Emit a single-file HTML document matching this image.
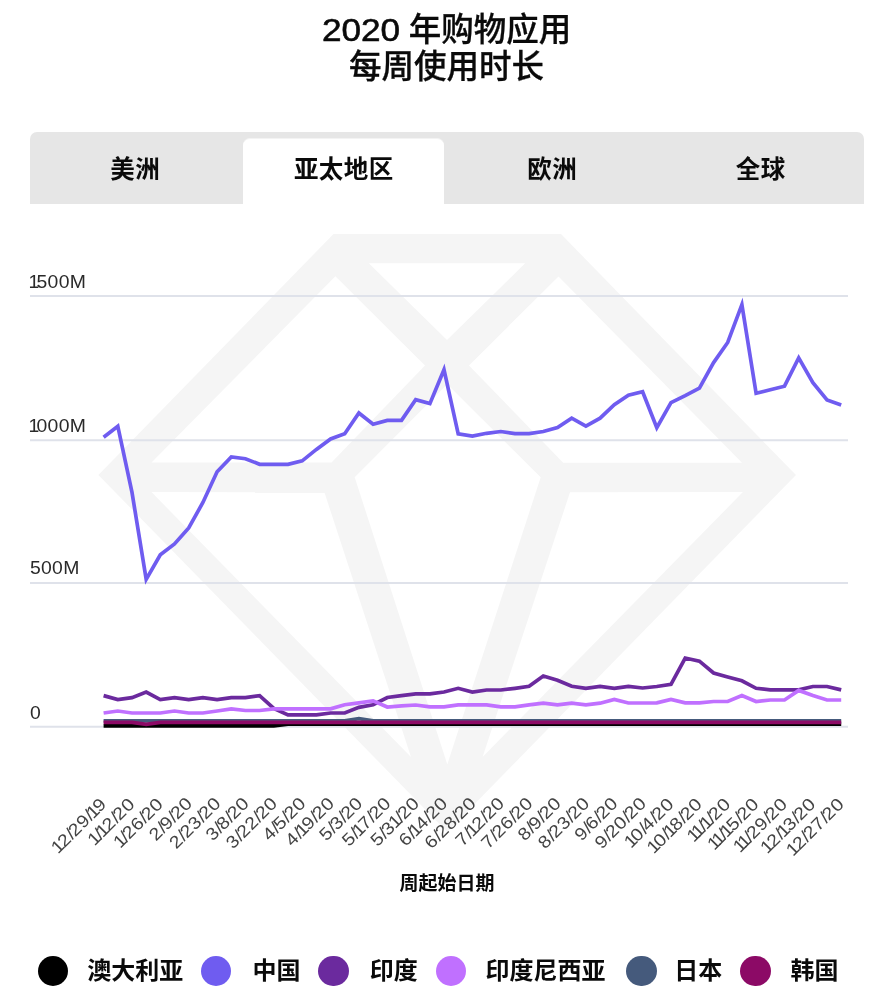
<!DOCTYPE html>
<html lang="zh-CN">
<head>
<meta charset="utf-8">
<title>2020 年购物应用每周使用时长</title>
<style>
html,body{margin:0;padding:0;background:#fff;}
body{width:890px;height:996px;position:relative;overflow:hidden;font-family:"Liberation Sans","Noto Sans CJK SC",sans-serif;color:#111;}
.title{position:absolute;left:0;top:12px;width:893px;text-align:center;font-size:32.5px;line-height:37px;font-weight:500;color:#0a0a0a;margin:0;-webkit-text-stroke:0.3px #0a0a0a;}
.title .num{display:inline-block;font-size:30.6px;font-weight:400;transform:scaleX(1.15);margin:0 5px 0 5px;-webkit-text-stroke:0.55px #0a0a0a;}
.tabs{position:absolute;left:30px;top:132px;width:834px;height:72px;background:#e6e6e6;border-radius:7px 7px 0 0;}
.tab{position:absolute;top:0;height:72px;width:208.5px;text-align:center;font-size:24.5px;font-weight:700;line-height:76.5px;letter-spacing:0.4px;text-indent:2px;color:#0a0a0a;}
.tab.active::before{content:"";position:absolute;left:4px;right:3px;top:6px;bottom:0;background:#fff;border-radius:7px 7px 0 0;border-top:1px solid #f3f3f3;z-index:0;}
.tab span{position:relative;z-index:1;}
.chart{position:absolute;left:0;top:0;}
.chart text{font-family:"Liberation Sans","Noto Sans CJK SC",sans-serif;fill:#1a1a1a;}
.ylab text{font-size:17.6px;fill:#2a2a2a;}
.ticks text{font-size:17.5px;fill:#444;}
.xtitle{position:absolute;left:0;top:870px;width:894px;text-align:center;font-size:19px;line-height:28px;font-weight:700;color:#0a0a0a;}
.dot{position:absolute;top:955.9px;width:30.6px;height:30.6px;border-radius:50%;}
.lt{position:absolute;top:953px;font-size:24px;line-height:36px;font-weight:700;color:#0a0a0a;white-space:nowrap;}
</style>
</head>
<body>
<svg class="chart" width="890" height="996" viewBox="0 0 890 996">
<g><polygon points="333.5,234 561,234 796,475 447.3,832 98.4,475" fill="#f5f5f5"/><polygon points="335.4,276.2 425,365.4 331.5,462.5 151.5,462.5" fill="#fff"/><polygon points="558.5,276.4 469,365.4 563.2,462.7 742,462.7" fill="#fff"/><polygon points="368.8,263.3 525.2,263.3 447,340" fill="#fff"/><polygon points="447.3,384.2 540.7,477.2 447.3,764.4 354.7,477.2" fill="#fff"/><polygon points="151.5,492.1 324.4,492.3 411,757" fill="#fff"/><polygon points="742.9,492.1 570,492.3 482.6,757" fill="#fff"/></g>
<g stroke="#dfe2ea" stroke-width="2"><line x1="30" x2="848" y1="296" y2="296"/><line x1="30" x2="848" y1="440.2" y2="440.2"/><line x1="30" x2="848" y1="583" y2="583"/><line x1="30" x2="848" y1="726.8" y2="726.8"/></g>
<g class="ylab"><text transform="translate(29.6,288.3) scale(1.1,1)" dx="-1.1 -2.5 0.31 0.31 0.31">1500M</text><text transform="translate(29.6,432.2) scale(1.1,1)" dx="-1.1 -2.5 0.31 0.31 0.31">1000M</text><text transform="translate(29.9,573.9) scale(1.1,1)" dx="0 0.31 0.31 0.31">500M</text><text transform="translate(29.9,719.2) scale(1.1,1)" dx="0">0</text></g>
<polyline points="103.6,725.8 117.8,725.8 132.0,725.8 146.2,725.8 160.3,725.8 174.5,725.8 188.7,725.8 202.9,725.8 217.1,725.8 231.3,725.8 245.4,725.8 259.6,725.8 273.8,725.8 288.0,724.1 302.2,724.1 316.4,724.1 330.6,724.1 344.7,724.1 358.9,724.1 373.1,724.1 387.3,724.1 401.5,724.1 415.7,724.1 429.9,724.1 444.0,724.1 458.2,724.1 472.4,724.1 486.6,724.1 500.8,724.1 515.0,724.1 529.1,724.1 543.3,724.1 557.5,724.1 571.7,724.1 585.9,724.1 600.1,724.1 614.3,724.1 628.4,724.1 642.6,724.1 656.8,724.1 671.0,724.1 685.2,724.1 699.4,724.1 713.6,724.1 727.7,724.1 741.9,724.1 756.1,724.1 770.3,724.1 784.5,724.1 798.7,724.1 812.9,724.1 827.0,724.1 841.2,724.1" fill="none" stroke="#000000" stroke-width="3.7" stroke-linejoin="miter" stroke-miterlimit="10"/>
<polyline points="103.6,437.3 117.8,426.2 132.0,492.4 146.2,579.4 160.3,554.8 174.5,544 188.7,527.9 202.9,502.5 217.1,471.7 231.3,456.9 245.4,458.7 259.6,464.3 273.8,464.3 288.0,464.3 302.2,460.9 316.4,449.4 330.6,438.9 344.7,433.7 358.9,413 373.1,424.3 387.3,420.4 401.5,420.4 415.7,399.6 429.9,403.6 444.0,369.7 458.2,433.9 472.4,436 486.6,433.3 500.8,431.5 515.0,433.7 529.1,433.7 543.3,431.5 557.5,427.6 571.7,418.2 585.9,426.1 600.1,418.2 614.3,404.7 628.4,395.1 642.6,391.7 656.8,427.7 671.0,402.7 685.2,395.6 699.4,388.1 713.6,362.6 727.7,342.5 741.9,304.7 756.1,393.3 770.3,389.7 784.5,386.2 798.7,357.9 812.9,382.6 827.0,399.9 841.2,405" fill="none" stroke="#6f5cf0" stroke-width="3.7" stroke-linejoin="miter" stroke-miterlimit="10"/>
<polyline points="103.6,695.6 117.8,699.6 132.0,697.6 146.2,692 160.3,699.6 174.5,697.6 188.7,699.6 202.9,697.6 217.1,699.6 231.3,697.6 245.4,697.6 259.6,695.6 273.8,708.4 288.0,714.9 302.2,714.9 316.4,714.9 330.6,713 344.7,713 358.9,707.4 373.1,704.7 387.3,697.5 401.5,695.7 415.7,693.9 429.9,693.9 444.0,692 458.2,688.3 472.4,692 486.6,690 500.8,690 515.0,688.3 529.1,686.3 543.3,676 557.5,680.2 571.7,686.3 585.9,688.3 600.1,686.3 614.3,688.3 628.4,686.3 642.6,688 656.8,686.5 671.0,684.4 685.2,658 699.4,661.2 713.6,673 727.7,677 741.9,680.8 756.1,688.3 770.3,689.9 784.5,689.9 798.7,689.9 812.9,686.5 827.0,686.5 841.2,689.9" fill="none" stroke="#6b2a9e" stroke-width="3.7" stroke-linejoin="miter" stroke-miterlimit="10"/>
<polyline points="103.6,713 117.8,711 132.0,713 146.2,713 160.3,713 174.5,711 188.7,713 202.9,713 217.1,711 231.3,708.8 245.4,710.5 259.6,710.5 273.8,708.8 288.0,708.8 302.2,708.8 316.4,708.8 330.6,708.8 344.7,704.7 358.9,702.9 373.1,700.9 387.3,707 401.5,705.8 415.7,705 429.9,706.9 444.0,706.9 458.2,704.9 472.4,704.9 486.6,704.9 500.8,706.9 515.0,706.9 529.1,704.9 543.3,703.2 557.5,704.9 571.7,703.2 585.9,704.9 600.1,703.2 614.3,699.4 628.4,703 642.6,703 656.8,702.8 671.0,699.4 685.2,702.8 699.4,702.8 713.6,701.5 727.7,701.5 741.9,695.6 756.1,701.5 770.3,700 784.5,700 798.7,690.4 812.9,695.6 827.0,700 841.2,700" fill="none" stroke="#c070ff" stroke-width="3.7" stroke-linejoin="miter" stroke-miterlimit="10"/>
<polyline points="103.6,720.9 117.8,720.9 132.0,720.9 146.2,720.9 160.3,720.9 174.5,720.9 188.7,720.9 202.9,720.9 217.1,720.9 231.3,720.9 245.4,720.9 259.6,720.9 273.8,720.9 288.0,720.9 302.2,720.9 316.4,720.9 330.6,720.9 344.7,720.9 358.9,718.7 373.1,720.9 387.3,720.9 401.5,720.9 415.7,720.9 429.9,720.9 444.0,720.9 458.2,720.9 472.4,720.9 486.6,720.9 500.8,720.9 515.0,720.9 529.1,720.9 543.3,720.9 557.5,720.9 571.7,720.9 585.9,720.9 600.1,720.9 614.3,720.9 628.4,720.9 642.6,720.9 656.8,720.9 671.0,720.9 685.2,720.9 699.4,720.9 713.6,720.9 727.7,720.9 741.9,720.9 756.1,720.9 770.3,720.9 784.5,720.9 798.7,720.9 812.9,720.9 827.0,720.9 841.2,720.9" fill="none" stroke="#455a7c" stroke-width="3.7" stroke-linejoin="miter" stroke-miterlimit="10"/>
<polyline points="103.6,722.4 117.8,722.4 132.0,722.4 146.2,724.4 160.3,722.4 174.5,722.4 188.7,722.4 202.9,722.4 217.1,722.4 231.3,722.4 245.4,722.4 259.6,722.4 273.8,722.4 288.0,722.4 302.2,722.4 316.4,722.4 330.6,722.4 344.7,722.4 358.9,722.4 373.1,722.4 387.3,722.4 401.5,722.4 415.7,722.4 429.9,722.4 444.0,722.4 458.2,722.4 472.4,722.4 486.6,722.4 500.8,722.4 515.0,722.4 529.1,722.4 543.3,722.4 557.5,722.4 571.7,722.4 585.9,722.4 600.1,722.4 614.3,722.4 628.4,722.4 642.6,722.4 656.8,722.4 671.0,722.4 685.2,722.4 699.4,722.4 713.6,722.4 727.7,722.4 741.9,722.4 756.1,722.4 770.3,722.4 784.5,722.4 798.7,722.4 812.9,722.4 827.0,722.4 841.2,722.4" fill="none" stroke="#8c0a66" stroke-width="3.7" stroke-linejoin="miter" stroke-miterlimit="10"/>
<g class="ticks"><text transform="translate(108.1,804.5) rotate(-45) scale(1.12,1)" text-anchor="end" dx="-1.1 -1.67 0.45 -1.47 0.45 0.45 -2.57 -1.67">12/29/19</text><text transform="translate(136.5,804.5) rotate(-45) scale(1.12,1)" text-anchor="end" dx="-1.1 -1.67 -2.57 -1.67 0.45 -1.47 0.45">1/12/20</text><text transform="translate(164.8,804.5) rotate(-45) scale(1.12,1)" text-anchor="end" dx="-1.1 -1.67 -1.47 0.45 0.45 -1.47 0.45">1/26/20</text><text transform="translate(193.2,804.5) rotate(-45) scale(1.12,1)" text-anchor="end" dx="0 0.45 -1.47 0.45 -1.47 0.45">2/9/20</text><text transform="translate(221.6,804.5) rotate(-45) scale(1.12,1)" text-anchor="end" dx="0 0.45 -1.47 0.45 0.45 -1.47 0.45">2/23/20</text><text transform="translate(249.9,804.5) rotate(-45) scale(1.12,1)" text-anchor="end" dx="0 0.45 -1.47 0.45 -1.47 0.45">3/8/20</text><text transform="translate(278.3,804.5) rotate(-45) scale(1.12,1)" text-anchor="end" dx="0 0.45 -1.47 0.45 0.45 -1.47 0.45">3/22/20</text><text transform="translate(306.7,804.5) rotate(-45) scale(1.12,1)" text-anchor="end" dx="0 0.45 -1.47 0.45 -1.47 0.45">4/5/20</text><text transform="translate(335.1,804.5) rotate(-45) scale(1.12,1)" text-anchor="end" dx="0 0.45 -2.57 -1.67 0.45 -1.47 0.45">4/19/20</text><text transform="translate(363.4,804.5) rotate(-45) scale(1.12,1)" text-anchor="end" dx="0 0.45 -1.47 0.45 -1.47 0.45">5/3/20</text><text transform="translate(391.8,804.5) rotate(-45) scale(1.12,1)" text-anchor="end" dx="0 0.45 -2.57 -1.67 0.45 -1.47 0.45">5/17/20</text><text transform="translate(420.2,804.5) rotate(-45) scale(1.12,1)" text-anchor="end" dx="0 0.45 -1.47 -0.65 -1.67 -1.47 0.45">5/31/20</text><text transform="translate(448.5,804.5) rotate(-45) scale(1.12,1)" text-anchor="end" dx="0 0.45 -2.57 -1.67 0.45 -1.47 0.45">6/14/20</text><text transform="translate(476.9,804.5) rotate(-45) scale(1.12,1)" text-anchor="end" dx="0 0.45 -1.47 0.45 0.45 -1.47 0.45">6/28/20</text><text transform="translate(505.3,804.5) rotate(-45) scale(1.12,1)" text-anchor="end" dx="0 0.45 -2.57 -1.67 0.45 -1.47 0.45">7/12/20</text><text transform="translate(533.6,804.5) rotate(-45) scale(1.12,1)" text-anchor="end" dx="0 0.45 -1.47 0.45 0.45 -1.47 0.45">7/26/20</text><text transform="translate(562.0,804.5) rotate(-45) scale(1.12,1)" text-anchor="end" dx="0 0.45 -1.47 0.45 -1.47 0.45">8/9/20</text><text transform="translate(590.4,804.5) rotate(-45) scale(1.12,1)" text-anchor="end" dx="0 0.45 -1.47 0.45 0.45 -1.47 0.45">8/23/20</text><text transform="translate(618.8,804.5) rotate(-45) scale(1.12,1)" text-anchor="end" dx="0 0.45 -1.47 0.45 -1.47 0.45">9/6/20</text><text transform="translate(647.1,804.5) rotate(-45) scale(1.12,1)" text-anchor="end" dx="0 0.45 -1.47 0.45 0.45 -1.47 0.45">9/20/20</text><text transform="translate(675.5,804.5) rotate(-45) scale(1.12,1)" text-anchor="end" dx="-1.1 -1.67 0.45 -1.47 0.45 -1.47 0.45">10/4/20</text><text transform="translate(703.9,804.5) rotate(-45) scale(1.12,1)" text-anchor="end" dx="-1.1 -1.67 0.45 -2.57 -1.67 0.45 -1.47 0.45">10/18/20</text><text transform="translate(732.2,804.5) rotate(-45) scale(1.12,1)" text-anchor="end" dx="-1.1 -2.77 -1.67 -2.57 -1.67 -1.47 0.45">11/1/20</text><text transform="translate(760.6,804.5) rotate(-45) scale(1.12,1)" text-anchor="end" dx="-1.1 -2.77 -1.67 -2.57 -1.67 0.45 -1.47 0.45">11/15/20</text><text transform="translate(789.0,804.5) rotate(-45) scale(1.12,1)" text-anchor="end" dx="-1.1 -2.77 -1.67 -1.47 0.45 0.45 -1.47 0.45">11/29/20</text><text transform="translate(817.4,804.5) rotate(-45) scale(1.12,1)" text-anchor="end" dx="-1.1 -1.67 0.45 -2.57 -1.67 0.45 -1.47 0.45">12/13/20</text><text transform="translate(845.7,804.5) rotate(-45) scale(1.12,1)" text-anchor="end" dx="-1.1 -1.67 0.45 -1.47 0.45 0.45 -1.47 0.45">12/27/20</text></g>
</svg>
<h1 class="title"><span class="num">2020</span> 年购物应用<br>每周使用时长</h1>
<div class="tabs">
<div class="tab" style="left:0"><span>美洲</span></div>
<div class="tab active" style="left:208.5px"><span>亚太地区</span></div>
<div class="tab" style="left:417px"><span>欧洲</span></div>
<div class="tab" style="left:625.5px"><span>全球</span></div>
</div>
<div class="xtitle">周起始日期</div>
<div class="legend"><span class="dot" style="left:37.5px;background:#000000"></span><span class="lt" style="left:87.3px">澳大利亚</span><span class="dot" style="left:200.7px;background:#6f5cf0"></span><span class="lt" style="left:252.5px">中国</span><span class="dot" style="left:318.4px;background:#6b2a9e"></span><span class="lt" style="left:369.7px">印度</span><span class="dot" style="left:435.9px;background:#c070ff"></span><span class="lt" style="left:485.5px">印度尼西亚</span><span class="dot" style="left:626px;background:#455a7c"></span><span class="lt" style="left:674.3px">日本</span><span class="dot" style="left:740.1px;background:#8c0a66"></span><span class="lt" style="left:790.6px">韩国</span></div>
</body>
</html>
